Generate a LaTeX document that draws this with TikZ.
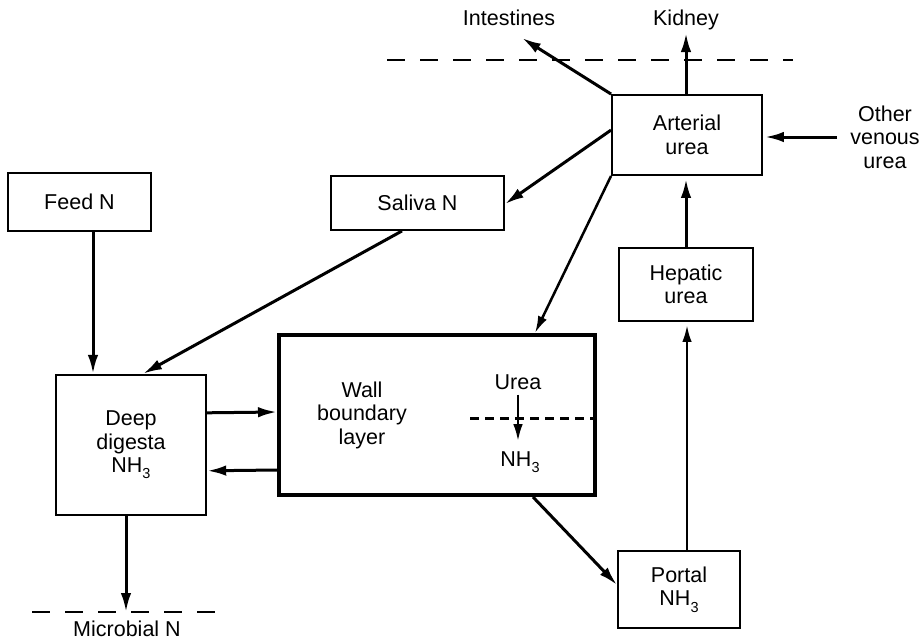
\documentclass[tikz,border=0pt]{standalone}
\usepackage{fontspec}
\setmainfont{Liberation Sans}
\usetikzlibrary{arrows.meta,calc}
\newcommand\diagfont{\fontsize{21.5}{23.5}\selectfont}
\newcommand\lowsub[1]{\raisebox{-0.55ex}{\fontsize{14.5}{14.5}\selectfont #1}}
\begin{document}
\begin{tikzpicture}[x=1pt,y=-1pt,
  box/.style={draw, line width=1.9pt, inner sep=0pt, align=center, font=\diagfont},
  thickbox/.style={draw, line width=4pt, inner sep=0pt},
  flow/.style={line width=3pt, -{Latex[length=19pt,width=10.5pt]}},
  thinflow/.style={line width=2.5pt, -{Latex[length=17pt,width=9.5pt]}},
  sep/.style={line width=2pt, dash pattern=on 18pt off 15pt},
  innerdash/.style={line width=3pt, dash pattern=on 9pt off 6pt},
  lbl/.style={align=center, font=\diagfont, inner sep=0pt}]
\useasboundingbox (0,0) rectangle (921,640);
\fill[white] (0,0) rectangle (921,640);

% boxes
\node[box, minimum width=143pt, minimum height=58pt] (feed) at (79.5,202) {Feed N};
\node[box, minimum width=173pt, minimum height=54pt] (saliva) at (417.5,203) {Saliva N};
\node[box, minimum width=150pt, minimum height=80pt] (arterial) at (687,135) {Arterial\\urea};
\node[box, minimum width=134pt, minimum height=73pt] (hepatic) at (686,284.5) {Hepatic\\urea};
\node[box, minimum width=122pt, minimum height=77pt] (portal) at (679,589.5) {Portal\\NH\lowsub{3}};
\node[box, line width=2.4pt, minimum width=150pt, minimum height=140pt] (deep) at (131,445) {Deep\\digesta\\NH\lowsub{3}};
\node[thickbox, minimum width=316pt, minimum height=160pt] (wall) at (437,415) {};

% texts inside wall
\node[lbl] (wtext) at (362,415) {Wall\\boundary\\layer};
\node[lbl] (urea) at (518,382) {Urea};
\node[lbl] (nh3) at (520,462) {NH\lowsub{3}};

% outside labels
\node[lbl] (intest) at (509,18) {Intestines};
\node[lbl] (kidney) at (686,20) {Kidney};
\node[lbl] (other) at (885,137) {Other\\venous\\urea};
\node[lbl] (micro) at (127,629) {Microbial N};

% dashed boundaries
\coordinate (t1) at (387,60);
\coordinate (t2) at (793,60);
\draw[sep] (t1) -- (t2);
\coordinate (m1) at (32,612);
\coordinate (m2) at (220,612);
\draw[sep] (m1) -- (m2);
\coordinate (d1) at (470,418);
\draw[innerdash] (d1) -- (d1 -| wall.east);

% inner arrow
\draw[thinflow, shorten <=5pt, shorten >=10pt] (urea.south) -- (urea.south |- nh3.north);

% connectors
\coordinate (intip) at (522,38);
\draw[flow] (arterial.north west) -- (intip);
\coordinate (kidtip) at (686,33);
\draw[flow] (arterial.north -| kidtip) -- (kidtip);
\coordinate (ovs) at (837,137);
\draw[flow, shorten >=2pt] (ovs) -- (ovs -| arterial.east);
\draw[flow] ($(arterial.north west)+(0,36)$) -- ($(saliva.north east)+(0,29)$);
\draw[thinflow] (arterial.south west) -- ($(wall.north west)+(258,0)$);
\draw[flow, shorten >=3pt] (hepatic.north) -- (hepatic.north |- arterial.south);
\coordinate (pl) at ($(hepatic.south)+(1,0)$);
\draw[thinflow, shorten >=3pt] (pl |- portal.north) -- (pl);
\coordinate (fa) at ($(feed.south)+(13.5,0)$);
\draw[flow] (fa) -- (fa |- deep.north);
\draw[flow] ($(saliva.south)+(-15.5,0)$) -- ($(deep.north)+(12,0)$);
\draw[flow] ($(deep.north east)+(0,39)$) -- ($(wall.north west)+(0,79)$);
\draw[flow] ($(wall.north west)+(0,137)$) -- ($(deep.north east)+(0,97)$);
\coordinate (mtip) at (126,612);
\draw[flow] (deep.south -| mtip) -- (mtip);
\draw[flow] ($(wall.south west)+(256,0)$) -- ($(portal.west)+(0,-4.5)$);
\end{tikzpicture}
\end{document}
